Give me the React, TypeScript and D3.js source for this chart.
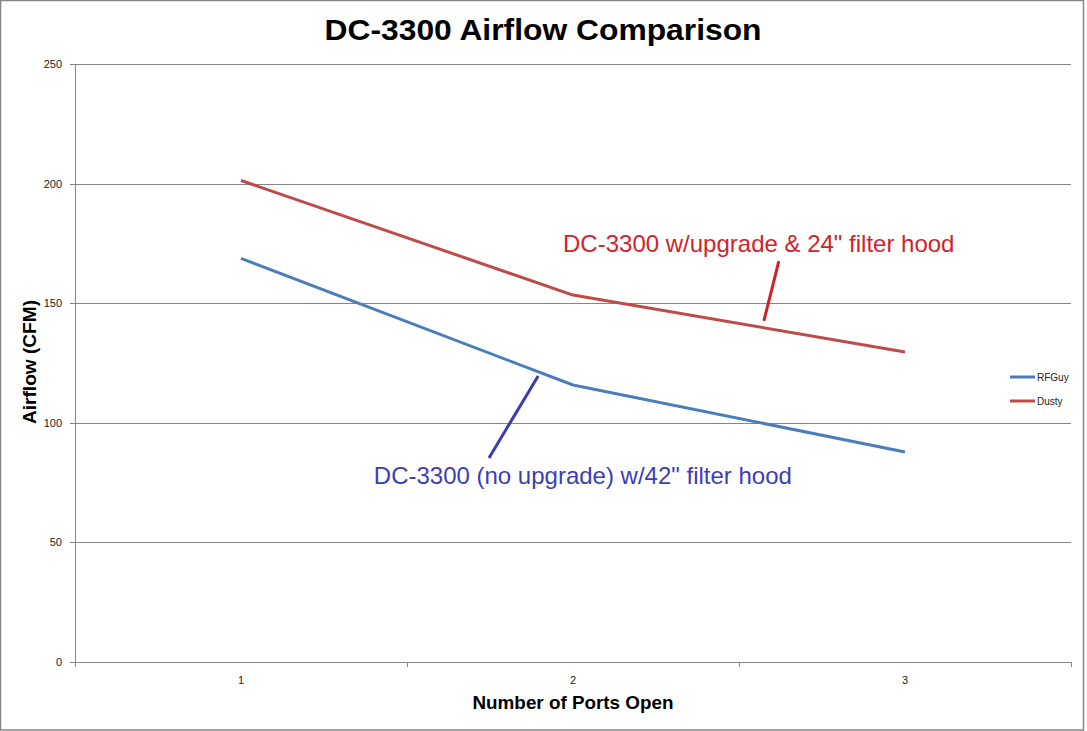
import { useEffect, useRef } from "react"
import * as d3 from "d3"

const ports = ["1", "2", "3"]
const rfguy = [168.7, 115.8, 87.8]
const dusty = [201.3, 153.4, 129.6]
const yTicks = [0, 50, 100, 150, 200, 250]

const seriesNames = ["RFGuy", "Dusty"]
const seriesColors = ["#4a7ebb", "#be4b48"]

// callouts in data units (x: continuous port position, y: CFM)
const calloutTexts = ["DC-3300 w/upgrade & 24\" filter hood", "DC-3300 (no upgrade) w/42\" filter hood"]
const calloutAt = [
  [1.97, 171.5],
  [1.4, 74.4],
]
const pointerFrom = [
  [2.62, 167.6],
  [1.895, 119.6],
]
const pointerTo = [
  [2.575, 142.6],
  [1.747, 85.3],
]
const calloutColors = ["#d2232d", "#3e3eb4"]
const pointerColors = ["#d0202a", "#3c3cac"]

export default function App() {
  const svgRef = useRef<SVGSVGElement>(null)

  useEffect(() => {
    if (!svgRef.current) return
    const W = 1087
    const H = 731
    const margin = { top: 64, right: 16, bottom: 69, left: 75 }
    const plotR = W - margin.right
    const plotB = H - margin.bottom

    const root = d3.select(svgRef.current)
    root.selectAll("*").remove()
    root.attr("width", W).attr("height", H)

    const font = "'Liberation Sans', Arial, sans-serif"

    root.append("rect").attr("width", W).attr("height", H).attr("fill", "white")
    // outer chart border
    root
      .append("rect")
      .attr("x", 0.5)
      .attr("y", 0.5)
      .attr("width", W - 4)
      .attr("height", H - 1.5)
      .attr("fill", "none")
      .attr("stroke", "#868686")
      .attr("stroke-width", 1.5)

    const x = d3.scaleBand().domain(ports).range([margin.left, plotR]).padding(0)
    const xLin = d3.scaleLinear().domain([0.5, 3.5]).range([margin.left, plotR])
    const y = d3.scaleLinear().domain([0, 250]).range([plotB, margin.top])
    const cx = (p: string) => (x(p) || 0) + x.bandwidth() / 2

    // gridlines
    root
      .append("g")
      .selectAll("line")
      .data(yTicks)
      .enter()
      .append("line")
      .attr("x1", margin.left - 5)
      .attr("x2", plotR)
      .attr("y1", (d) => Math.round(y(d)) + 0.5)
      .attr("y2", (d) => Math.round(y(d)) + 0.5)
      .attr("stroke", "#868686")
      .attr("stroke-width", 1)

    // y axis line
    root
      .append("line")
      .attr("x1", margin.left + 0.5)
      .attr("x2", margin.left + 0.5)
      .attr("y1", margin.top)
      .attr("y2", plotB)
      .attr("stroke", "#868686")

    // x tick marks at band edges
    const edges = ports.map((p) => x(p) || 0).concat([plotR])
    root
      .append("g")
      .selectAll("line")
      .data(edges)
      .enter()
      .append("line")
      .attr("x1", (d) => Math.round(d) + 0.5)
      .attr("x2", (d) => Math.round(d) + 0.5)
      .attr("y1", plotB)
      .attr("y2", plotB + 5)
      .attr("stroke", "#868686")

    // y tick labels
    root
      .append("g")
      .selectAll("text")
      .data(yTicks)
      .enter()
      .append("text")
      .attr("x", margin.left - 13)
      .attr("y", (d) => y(d) + 4)
      .attr("text-anchor", "end")
      .attr("font-family", font)
      .attr("font-size", 11)
      .attr("fill", "#222")
      .text((d) => d)

    // x tick labels
    root
      .append("g")
      .selectAll("text")
      .data(ports)
      .enter()
      .append("text")
      .attr("x", cx)
      .attr("y", plotB + 22)
      .attr("text-anchor", "middle")
      .attr("font-family", font)
      .attr("font-size", 11)
      .attr("fill", "#222")
      .text((d) => d)

    // series lines
    const series = [rfguy, dusty]
    const line = d3
      .line<number>()
      .x((_, i) => cx(ports[i]))
      .y((d) => y(d))
    series.forEach((vals, i) => {
      root
        .append("path")
        .datum(vals)
        .attr("fill", "none")
        .attr("stroke", seriesColors[i])
        .attr("stroke-width", 3)
        .attr("stroke-linejoin", "round")
        .attr("d", line)
    })

    // title
    root
      .append("text")
      .attr("x", 543)
      .attr("y", 40)
      .attr("text-anchor", "middle")
      .attr("font-family", font)
      .attr("font-weight", "bold")
      .attr("font-size", 30)
      .attr("textLength", 437)
      .attr("lengthAdjust", "spacingAndGlyphs")
      .attr("fill", "#000")
      .text("DC-3300 Airflow Comparison")

    // axis titles
    root
      .append("text")
      .attr("x", 573)
      .attr("y", 709)
      .attr("text-anchor", "middle")
      .attr("font-family", font)
      .attr("font-weight", "bold")
      .attr("font-size", 18.5)
      .attr("textLength", 201)
      .attr("lengthAdjust", "spacingAndGlyphs")
      .text("Number of Ports Open")

    root
      .append("text")
      .attr("transform", `translate(36,362) rotate(-90)`)
      .attr("text-anchor", "middle")
      .attr("font-family", font)
      .attr("font-weight", "bold")
      .attr("font-size", 18.5)
      .attr("textLength", 124)
      .attr("lengthAdjust", "spacingAndGlyphs")
      .text("Airflow (CFM)")

    // legend
    const legend = root.append("g").attr("transform", "translate(1010,377)")
    seriesNames.forEach((name, i) => {
      legend
        .append("line")
        .attr("x1", 0)
        .attr("x2", 25)
        .attr("y1", i * 24)
        .attr("y2", i * 24)
        .attr("stroke", seriesColors[i])
        .attr("stroke-width", 3)
      legend
        .append("text")
        .attr("x", 27)
        .attr("y", i * 24 + 4)
        .attr("font-family", font)
        .attr("font-size", 10)
        .attr("fill", "#222")
        .text(name)
    })

    // callouts
    calloutTexts.forEach((t, i) => {
      root
        .append("line")
        .attr("x1", xLin(pointerFrom[i][0]))
        .attr("y1", y(pointerFrom[i][1]))
        .attr("x2", xLin(pointerTo[i][0]))
        .attr("y2", y(pointerTo[i][1]))
        .attr("stroke", pointerColors[i])
        .attr("stroke-width", 3)
      root
        .append("text")
        .attr("x", xLin(calloutAt[i][0]))
        .attr("y", y(calloutAt[i][1]))
        .attr("font-family", font)
        .attr("font-size", 24)
        .attr("fill", calloutColors[i])
        .text(t)
    })
  }, [])

  return (
    <div style={{ position: "absolute", left: 0, top: 0 }}>
      <svg ref={svgRef} style={{ display: "block" }} />
    </div>
  )
}
